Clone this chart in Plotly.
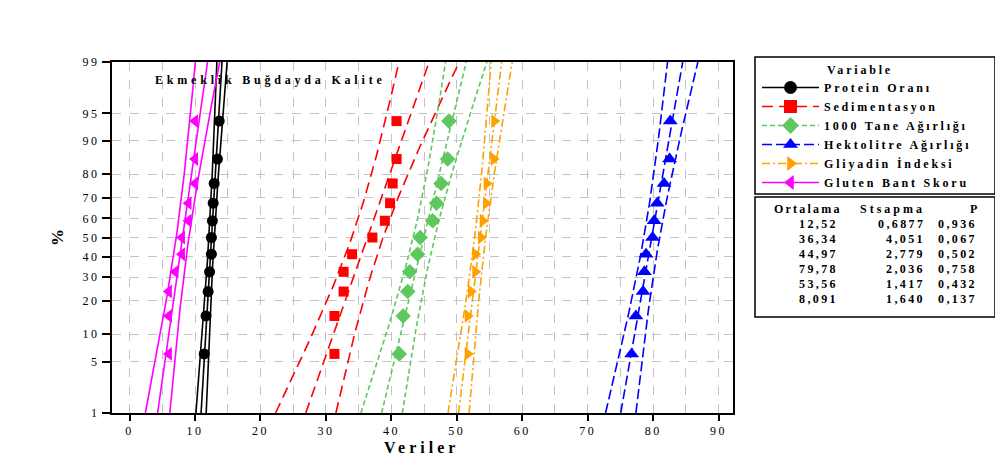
import plotly.graph_objects as go
from statistics import NormalDist

# ---------------- data ----------------
series_names = ["Protein Oranı", "Sedimentasyon", "1000 Tane Ağırlığı",
                "Hektolitre Ağırlığı", "Gliyadin İndeksi", "Gluten Bant Skoru"]
protein_orani = [11.40, 11.68, 12.00, 12.22, 12.50, 12.50, 12.65, 12.77, 12.92, 13.42, 13.69]
sedimentasyon = [31.3, 31.3, 32.7, 32.7, 34.0, 37.1, 39.0, 39.8, 40.2, 40.8, 40.8]
tane_agirligi = [41.2, 41.8, 42.5, 42.8, 44.0, 44.4, 46.3, 46.9, 47.6, 48.6, 48.8]
hektolitre = [76.71, 77.36, 78.46, 78.66, 78.91, 79.91, 80.16, 80.61, 81.66, 82.51, 82.61]
gliyadin = [51.66, 51.66, 52.16, 52.82, 52.82, 53.69, 53.96, 54.46, 54.56, 55.63, 55.73]
gluten_bant = [6, 6, 6, 7, 8, 8, 9, 9, 10, 10, 10]

ortalama = [12.52, 36.34, 44.97, 79.78, 53.56, 8.091]
stsapma = [0.6877, 4.051, 2.779, 2.036, 1.417, 1.640]
ortalama_txt = ["12,52", "36,34", "44,97", "79,78", "53,56", "8,091"]
stsapma_txt = ["0,6877", "4,051", "2,779", "2,036", "1,417", "1,640"]
p_txt = ["0,936", "0,067", "0,502", "0,758", "0,432", "0,137"]

pct_ticks = [1, 5, 10, 20, 30, 40, 50, 60, 70, 80, 90, 95, 99]
x_ticks = [0, 10, 20, 30, 40, 50, 60, 70, 80, 90]

series_values = [protein_orani, sedimentasyon, tane_agirligi, hektolitre, gliyadin, gluten_bant]

# ---------------- styles ----------------
colors = ["#000000", "#FF0000", "#5EC85E", "#0000FF", "#FFA000", "#FF00FF"]
symbols = ["circle", "square", "diamond", "triangle-up", "triangle-right", "triangle-left"]
msizes = [11, 10, 12, 13, 12, 12]
dashes = ["solid", "11px,6px", "5px,3px", "10px,4px", "8px,3px,2px,3px", "solid"]
SERIF = "Liberation Serif"

nd = NormalDist()
zmax = nd.inv_cdf(0.99)
zmin = -zmax


def sp(t, ls):
    return f'<span style="letter-spacing:{ls}px">{t}</span>'


# page offset (body margin) and figure size
OFF = 8
W, H = 1003 - OFF, 470 - OFF
# plot area in screen pixels
PL, PR, PT, PB = 112, 733, 62, 413


def px(x):
    return (x - PL) / (PR - PL)


def py(y):
    return (PB - y) / (PB - PT)


fig = go.Figure()

nz = 60
zline = [zmin + (zmax - zmin) * i / (nz - 1) for i in range(nz)]

for k, name in enumerate(series_names):
    vals = sorted(series_values[k])
    n = len(vals)
    mu, sd = ortalama[k], stsapma[k]
    zpts = [nd.inv_cdf((i + 1 - 0.3) / (n + 0.4)) for i in range(n)]
    fit = [mu + z * sd for z in zline]
    half = [1.96 * sd / n ** 0.5 * (1 + z * z / 2) ** 0.5 for z in zline]
    lo = [f - h for f, h in zip(fit, half)]
    hi = [f + h for f, h in zip(fit, half)]
    for xs in (lo, fit, hi):
        fig.add_trace(go.Scatter(x=xs, y=zline, mode="lines", showlegend=False,
                                 hoverinfo="skip",
                                 line=dict(color=colors[k], width=1.6, dash=dashes[k])))
    fig.add_trace(go.Scatter(x=vals, y=zpts, mode="markers", showlegend=False,
                             marker=dict(color=colors[k], symbol=symbols[k], size=msizes[k],
                                         line=dict(width=0))))
    fig.add_trace(go.Scatter(x=[None], y=[None], mode="lines+markers",
                             name=sp(name, 2.8),
                             line=dict(color=colors[k], width=1.5, dash=dashes[k]),
                             marker=dict(color=colors[k], symbol=symbols[k], size=13)))

grid_col = "#C4C4C4"
fig.update_xaxes(
    range=[-2.69, 92.2], tickmode="array", tickvals=x_ticks,
    ticktext=[sp(str(v), 2.5) for v in x_ticks],
    ticks="outside", ticklen=6, tickwidth=1.5, tickcolor="black",
    showline=True, linecolor="black", linewidth=1.5, mirror=True,
    showgrid=True, gridcolor=grid_col, griddash="dash", gridwidth=1,
    minor=dict(tickmode="linear", tick0=0, dtick=5, showgrid=True, gridcolor=grid_col,
               griddash="dash", gridwidth=1, ticks=""),
    zeroline=False, tickfont=dict(family=SERIF, size=12, color="black"),
)
fig.update_yaxes(
    range=[zmin, zmax], tickmode="array",
    tickvals=[nd.inv_cdf(p / 100) for p in pct_ticks],
    ticktext=[sp(str(p), 2.5) for p in pct_ticks],
    ticks="outside", ticklen=8, tickwidth=1.5, tickcolor="black",
    showline=True, linecolor="black", linewidth=2, mirror=True,
    showgrid=True, gridcolor=grid_col, griddash="dash", gridwidth=1,
    zeroline=False, tickfont=dict(family=SERIF, size=12, color="black"),
)

ann = []
bold12 = dict(family=SERIF, size=12, color="black", weight="bold")
ann.append(dict(x=px(153), y=py(80), xref="paper", yref="paper", xanchor="left",
                yanchor="middle", showarrow=False,
                text=sp("Ekmeklik Buğdayda Kalite", 3.8), font=bold12))
ann.append(dict(x=px(421), y=py(447), xref="paper", yref="paper", xanchor="center",
                yanchor="middle", showarrow=False, text=sp("Veriler", 4),
                font=dict(family=SERIF, size=16, color="black", weight="bold")))
ann.append(dict(x=px(58), y=py(238), xref="paper", yref="paper", xanchor="center",
                yanchor="middle", showarrow=False, text="%", textangle=-90,
                font=dict(family=SERIF, size=17, color="black", weight="bold")))
ann.append(dict(x=px(825), y=py(70), xref="paper", yref="paper", xanchor="left",
                yanchor="middle", showarrow=False, text=sp("Variable", 2.8), font=bold12))

# stats table
TB = 6  # table shift down (legend needs a bit more room)
hdr_y = 203 + TB
ann.append(dict(x=px(844), y=py(hdr_y), xref="paper", yref="paper", xanchor="right",
                yanchor="middle", showarrow=False, text=sp("Ortalama", 2.2), font=bold12))
ann.append(dict(x=px(927), y=py(hdr_y), xref="paper", yref="paper", xanchor="right",
                yanchor="middle", showarrow=False, text=sp("Stsapma", 3), font=bold12))
ann.append(dict(x=px(979), y=py(hdr_y), xref="paper", yref="paper", xanchor="right",
                yanchor="middle", showarrow=False, text="P", font=bold12))
for i in range(len(ortalama_txt)):
    yy = py(218 + TB + 15 * i)
    for txt, xr in ((ortalama_txt[i], 840), (stsapma_txt[i], 927), (p_txt[i], 979)):
        ann.append(dict(x=px(xr), y=yy, xref="paper", yref="paper", xanchor="right",
                        yanchor="middle", showarrow=False, text=sp(txt, 2.4), font=bold12))

shapes = [
    dict(type="rect", xref="paper", yref="paper", x0=px(755), x1=px(995), y0=py(194),
         y1=py(57), line=dict(color="black", width=1.5), fillcolor="rgba(0,0,0,0)"),
    dict(type="rect", xref="paper", yref="paper", x0=px(755), x1=px(995), y0=py(317),
         y1=py(197), line=dict(color="black", width=1.5), fillcolor="rgba(0,0,0,0)"),
]

fig.update_layout(
    width=W, height=H,
    margin=dict(l=PL - OFF, r=(W + OFF) - PR, t=PT - OFF, b=(H + OFF) - PB),
    paper_bgcolor="white", plot_bgcolor="white",
    showlegend=True,
    legend=dict(x=px(757), y=py(73), xanchor="left", yanchor="top",
                bgcolor="rgba(0,0,0,0)", borderwidth=0, itemwidth=57,
                tracegroupgap=0,
                font=dict(family=SERIF, size=12, color="black", weight="bold")),
    annotations=ann, shapes=shapes,
)

fig.write_html("out.html")
